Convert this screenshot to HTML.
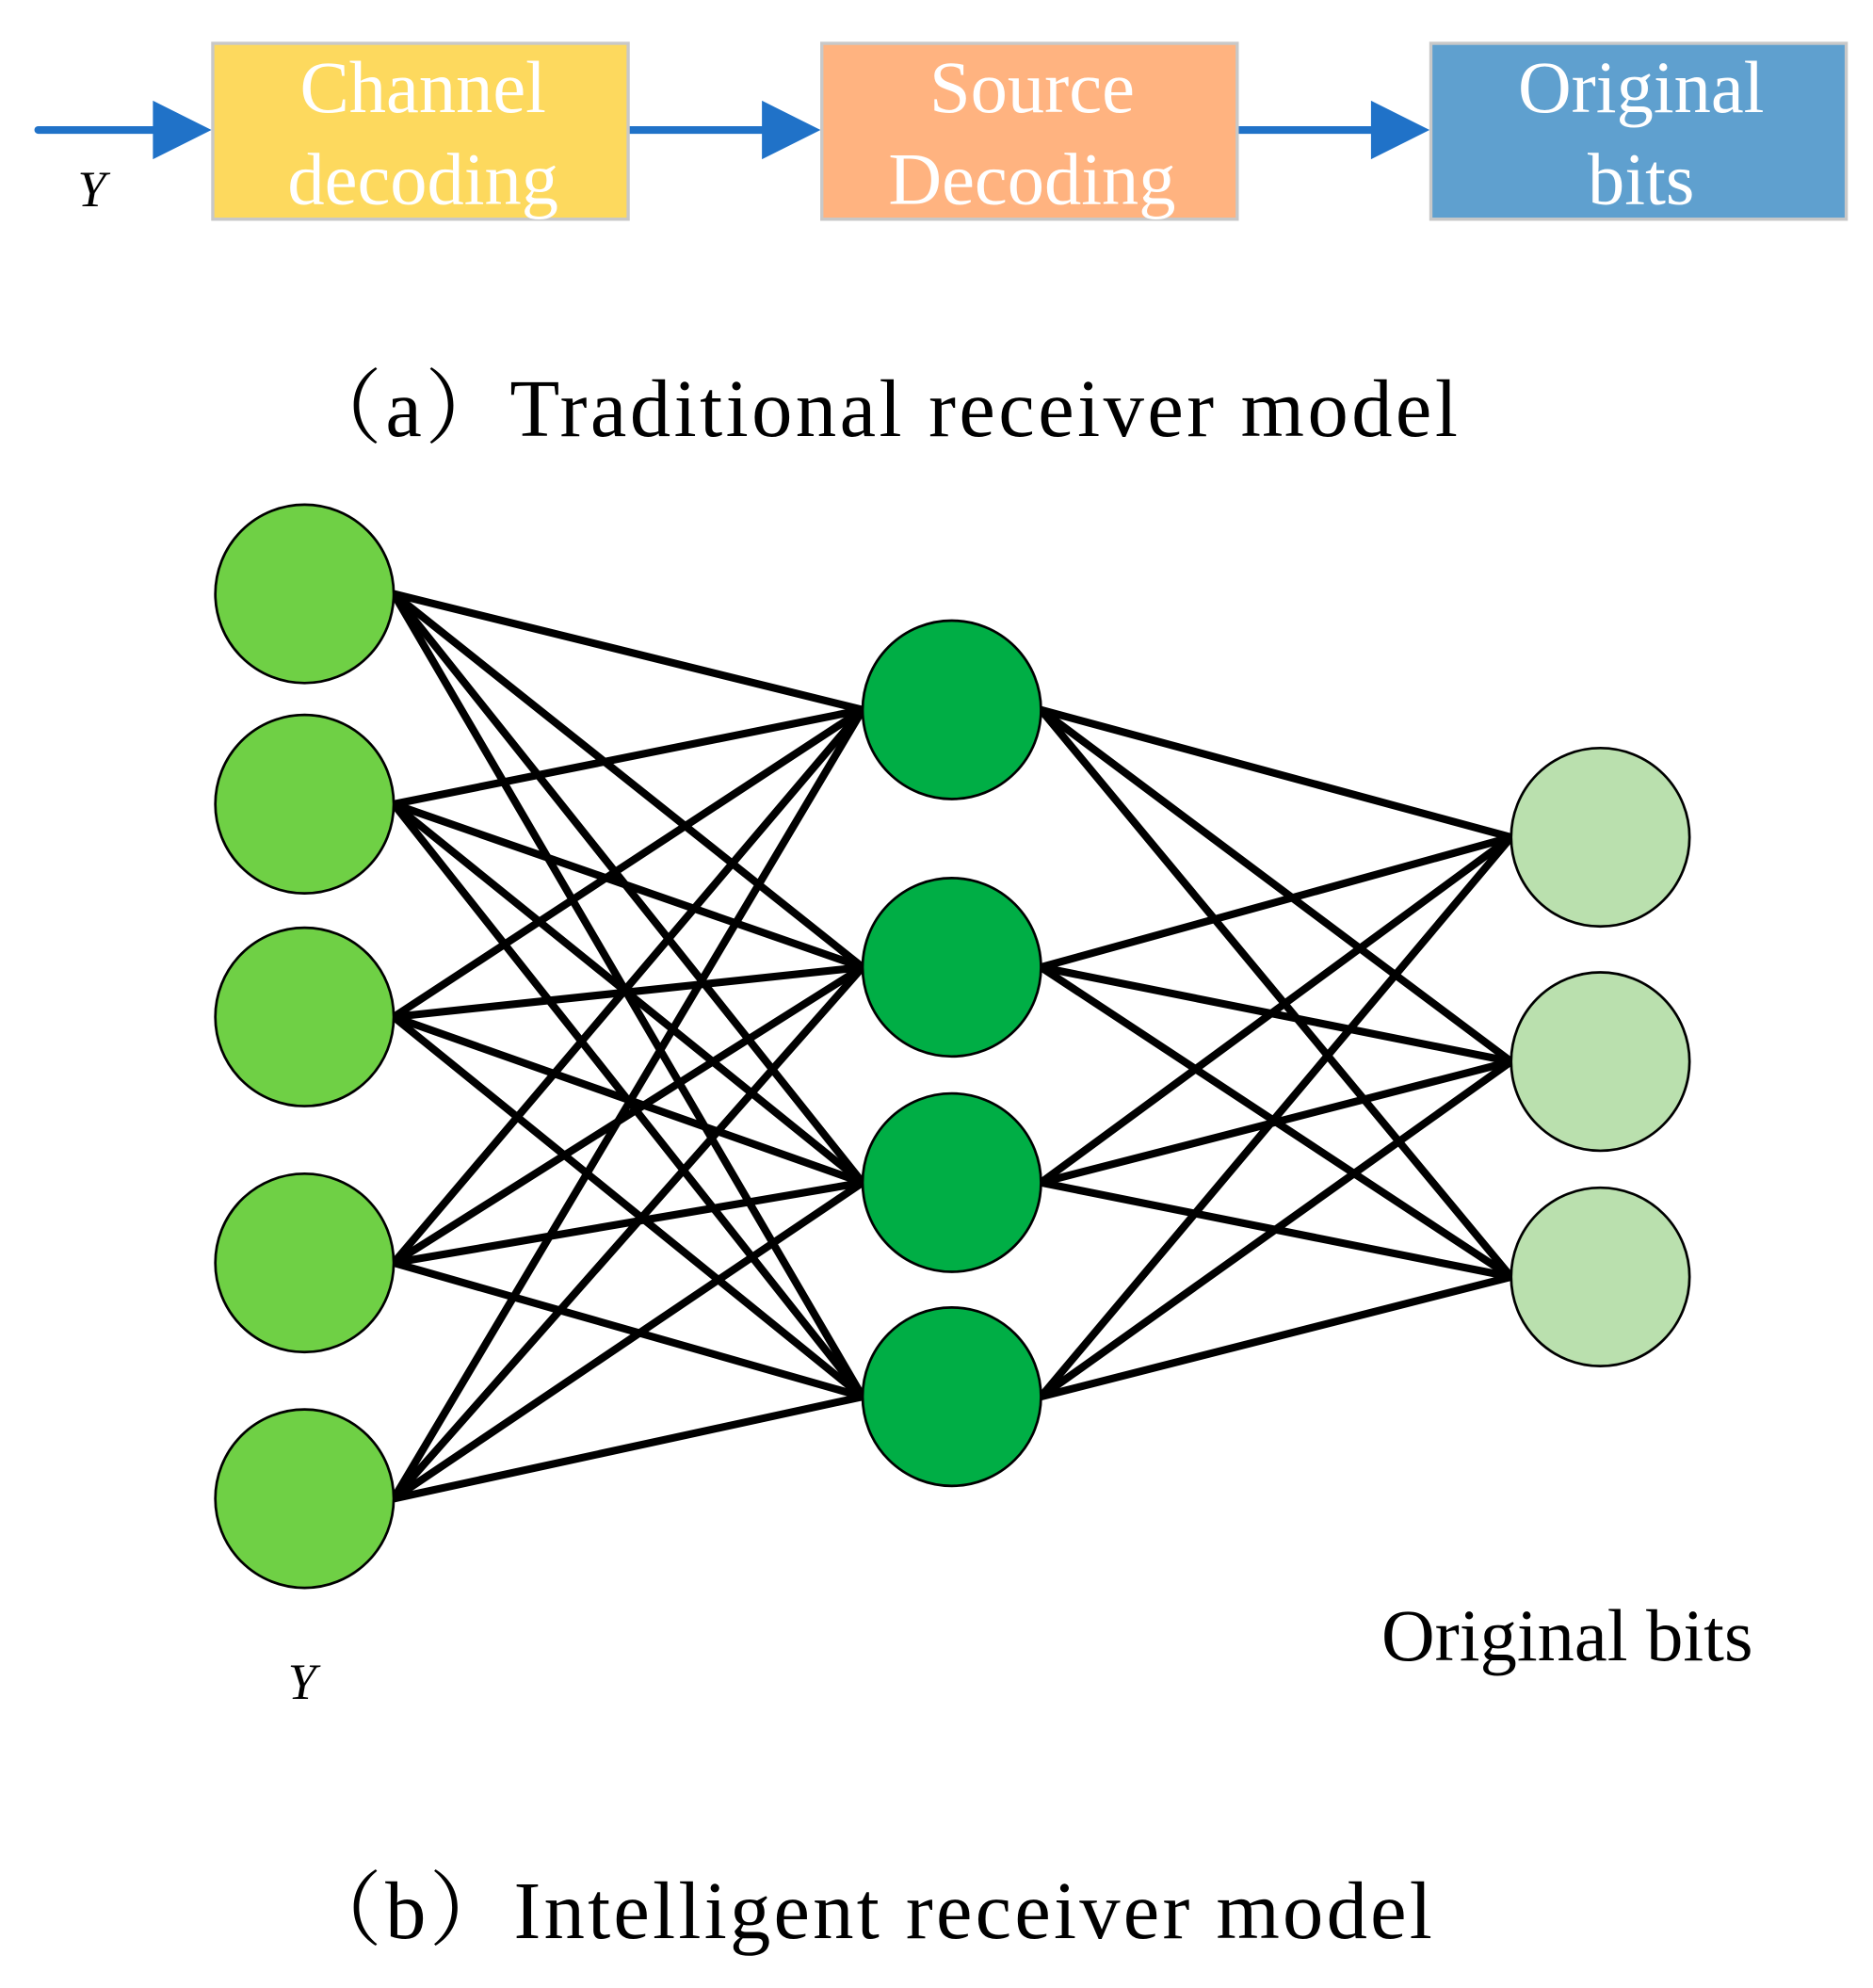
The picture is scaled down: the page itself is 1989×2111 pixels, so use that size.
<!DOCTYPE html>
<html><head><meta charset="utf-8"><style>html,body{margin:0;padding:0;background:#fff}svg{display:block}</style></head>
<body>
<svg width="1989" height="2111" viewBox="0 0 1470 1560" preserveAspectRatio="none" xmlns="http://www.w3.org/2000/svg" font-family="Liberation Serif, serif">
<g stroke="#2072c8" stroke-width="6" stroke-linecap="round">
<line x1="30" y1="102" x2="125" y2="102"/>
<line x1="493" y1="102" x2="602" y2="102"/>
<line x1="971" y1="102" x2="1080" y2="102"/>
</g>
<g fill="#2072c8">
<polygon points="120,79 166,102 120,125"/>
<polygon points="598,79 644,102 598,125"/>
<polygon points="1076,79 1122,102 1076,125"/>
</g>
<rect x="167" y="34" width="326" height="138" fill="#fdd95e" stroke="#c8c8c8" stroke-width="2.5"/>
<rect x="645" y="34" width="326" height="138" fill="#ffb380" stroke="#c8c8c8" stroke-width="2.5"/>
<rect x="1123" y="34" width="326" height="138" fill="#5fa0cf" stroke="#c8c8c8" stroke-width="2.5"/>
<g fill="#fff" font-size="58" text-anchor="middle">
<text x="332" y="88">Channel</text><text x="332" y="160">decoding</text>
<text x="810" y="88">Source</text><text x="810" y="160">Decoding</text>
<text x="1288" y="88">Original</text><text x="1288" y="160">bits</text>
</g>
<text x="72" y="162" font-size="40" font-style="italic" text-anchor="middle">Y</text>
<text x="236" y="342" font-size="64" textLength="908" lengthAdjust="spacing" font-family="Liberation Serif, 'Noto Serif CJK SC', serif">（a）Traditional receiver model</text>
<g stroke="#000" stroke-width="6">
<line x1="309" y1="466" x2="677" y2="557"/><line x1="309" y1="466" x2="677" y2="759"/><line x1="309" y1="466" x2="677" y2="928"/><line x1="309" y1="466" x2="677" y2="1096"/>
<line x1="309" y1="631" x2="677" y2="557"/><line x1="309" y1="631" x2="677" y2="759"/><line x1="309" y1="631" x2="677" y2="928"/><line x1="309" y1="631" x2="677" y2="1096"/>
<line x1="309" y1="798" x2="677" y2="557"/><line x1="309" y1="798" x2="677" y2="759"/><line x1="309" y1="798" x2="677" y2="928"/><line x1="309" y1="798" x2="677" y2="1096"/>
<line x1="309" y1="991" x2="677" y2="557"/><line x1="309" y1="991" x2="677" y2="759"/><line x1="309" y1="991" x2="677" y2="928"/><line x1="309" y1="991" x2="677" y2="1096"/>
<line x1="309" y1="1176" x2="677" y2="557"/><line x1="309" y1="1176" x2="677" y2="759"/><line x1="309" y1="1176" x2="677" y2="928"/><line x1="309" y1="1176" x2="677" y2="1096"/>
<line x1="817" y1="557" x2="1186" y2="657"/><line x1="817" y1="557" x2="1186" y2="833"/><line x1="817" y1="557" x2="1186" y2="1002"/>
<line x1="817" y1="759" x2="1186" y2="657"/><line x1="817" y1="759" x2="1186" y2="833"/><line x1="817" y1="759" x2="1186" y2="1002"/>
<line x1="817" y1="928" x2="1186" y2="657"/><line x1="817" y1="928" x2="1186" y2="833"/><line x1="817" y1="928" x2="1186" y2="1002"/>
<line x1="817" y1="1096" x2="1186" y2="657"/><line x1="817" y1="1096" x2="1186" y2="833"/><line x1="817" y1="1096" x2="1186" y2="1002"/>
</g>
<g stroke="#000" stroke-width="2">
<g fill="#6fd045">
<circle cx="239" cy="466" r="70"/><circle cx="239" cy="631" r="70"/><circle cx="239" cy="798" r="70"/><circle cx="239" cy="991" r="70"/><circle cx="239" cy="1176" r="70"/>
</g>
<g fill="#00ae45">
<circle cx="747" cy="557" r="70"/><circle cx="747" cy="759" r="70"/><circle cx="747" cy="928" r="70"/><circle cx="747" cy="1096" r="70"/>
</g>
<g fill="#bae0ae">
<circle cx="1256" cy="657" r="70"/><circle cx="1256" cy="833" r="70"/><circle cx="1256" cy="1002" r="70"/>
</g>
</g>
<text x="237" y="1333" font-size="40" font-style="italic" text-anchor="middle">Y</text>
<text x="1230" y="1303" font-size="58" text-anchor="middle">Original bits</text>
<text x="236" y="1521" font-size="64" textLength="888" lengthAdjust="spacing" font-family="Liberation Serif, 'Noto Serif CJK SC', serif">（b）Intelligent receiver model</text>
</svg>
</body></html>
